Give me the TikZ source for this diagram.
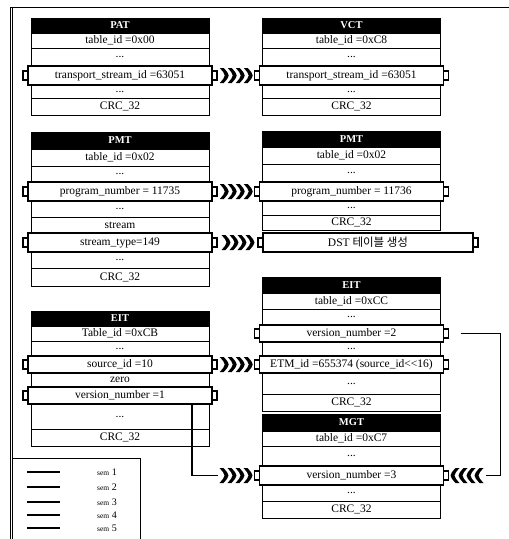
\documentclass[tikz,border=0pt]{standalone}
\usepackage{fontspec}
\setmainfont{Liberation Serif}
\newfontfamily\kofont{Noto Sans CJK KR}
\usetikzlibrary{positioning, calc}

\begin{document}
\begin{tikzpicture}[x=1pt, y=-1pt,
    hdr/.style={draw, fill=black, text=white, font=\bfseries\fontsize{10.5}{12}\selectfont, minimum width=178pt, inner sep=0pt, outer sep=0pt, anchor=north},
    cell/.style={draw, line width=0.5pt, minimum width=178pt, inner sep=0pt, outer sep=0pt, font=\fontsize{11.5}{12}\selectfont},
    hl/.style={cell, line width=1.6pt, minimum width=184pt},
    port/.style={draw, line width=1.4pt, fill=white, minimum width=5pt, minimum height=9pt, inner sep=0pt, outer sep=0pt},
    link/.style={line width=1.4pt},
    legtxt/.style={font=\fontsize{10}{11}\selectfont, inner sep=0pt},
    chevs/.pic={
      \foreach \i in {-16,-8,0,8}
        \fill[shift={(\i,0)}] (0,-7.5) -- (4,-7.5) .. controls (7,-4) and (9,-2) .. (9,0)
          .. controls (9,2) and (7,4) .. (4,7.5) -- (0,7.5) .. controls (3,4) and (5,2) .. (5,0)
          .. controls (5,-2) and (3,-4) .. (0,-7.5) -- cycle;
    }
]
\useasboundingbox (0,0) rectangle (509,539);
% frame
\draw (10,7) -- (509,7);
\draw (10,7) -- (10,539);
\draw (12.5,7) -- (12.5,539);

% PAT
\node[hdr, minimum height=15pt] (pat) at (120,18) {PAT};
\node[cell, below=0pt of pat, minimum height=15pt] (pat1) {table\_id =0x00};
\node[cell, below=0pt of pat1, minimum height=18pt] (pat2) {...};
\node[hl, below=0pt of pat2, minimum height=19pt] (pat3) {transport\_stream\_id =63051};
\node[cell, below=0pt of pat3, minimum height=13pt] (pat4) {...};
\node[cell, below=0pt of pat4, minimum height=17pt] (pat5) {CRC\_32};
\node[port, left=0pt of pat3] (pat3w) {};
\node[port, right=0pt of pat3] (pat3e) {};

% VCT
\node[hdr, minimum height=15pt] (vct) at (351.5,18) {VCT};
\node[cell, below=0pt of vct, minimum height=15pt] (vct1) {table\_id =0xC8};
\node[cell, below=0pt of vct1, minimum height=18pt] (vct2) {...};
\node[hl, below=0pt of vct2, minimum height=19pt] (vct3) {transport\_stream\_id =63051};
\node[cell, below=0pt of vct3, minimum height=13pt] (vct4) {...};
\node[cell, below=0pt of vct4, minimum height=17pt] (vct5) {CRC\_32};
\node[port, left=0pt of vct3] (vct3w) {};
\node[port, right=0pt of vct3] (vct3e) {};

% PMT (left)
\node[hdr, minimum height=17pt] (pmtl) at (120,132) {PMT};
\node[cell, below=0pt of pmtl, minimum height=17pt] (pmtl1) {table\_id =0x02};
\node[cell, below=0pt of pmtl1, minimum height=16pt] (pmtl2) {...};
\node[hl, below=0pt of pmtl2, minimum height=19pt] (pmtl3) {program\_number = 11735};
\node[cell, below=0pt of pmtl3, minimum height=16pt] (pmtl4) {...};
\node[cell, below=0pt of pmtl4, minimum height=16pt] (pmtl5) {stream};
\node[hl, below=0pt of pmtl5, minimum height=19pt] (pmtl6) {stream\_type=149};
\node[cell, below=0pt of pmtl6, minimum height=16pt] (pmtl7) {...};
\node[cell, below=0pt of pmtl7, minimum height=18pt] (pmtl8) {CRC\_32};
\node[port, left=0pt of pmtl3] (pmtl3w) {};
\node[port, right=0pt of pmtl3] (pmtl3e) {};
\node[port, left=0pt of pmtl6] (pmtl6w) {};
\node[port, right=0pt of pmtl6] (pmtl6e) {};

% PMT (right)
\node[hdr, minimum height=16pt] (pmtr) at (351.5,131) {PMT};
\node[cell, below=0pt of pmtr, minimum height=17pt] (pmtr1) {table\_id =0x02};
\node[cell, below=0pt of pmtr1, minimum height=18pt] (pmtr2) {...};
\node[hl, below=0pt of pmtr2, minimum height=19pt] (pmtr3) {program\_number = 11736};
\node[cell, below=0pt of pmtr3, minimum height=14pt] (pmtr4) {...};
\node[cell, below=0pt of pmtr4, minimum height=15pt] (pmtr5) {CRC\_32};
\node[port, left=0pt of pmtr3] (pmtr3w) {};
\node[port, right=0pt of pmtr3] (pmtr3e) {};

% DST
\node[hl, minimum width=210pt, minimum height=19pt] (dst) at (368,242.5) {DST {\kofont 테이블 생성}};
\node[port, left=0pt of dst] (dstw) {};
\node[port, right=0pt of dst] (dste) {};

% EIT (left)
\node[hdr, minimum height=15pt] (eitl) at (120,311) {EIT};
\node[cell, below=0pt of eitl, minimum height=15pt] (eitl1) {Table\_id =0xCB};
\node[cell, below=0pt of eitl1, minimum height=15pt] (eitl2) {...};
\node[hl, below=0pt of eitl2, minimum height=17pt] (eitl3) {source\_id =10};
\node[cell, below=0pt of eitl3, minimum height=14pt] (eitl4) {zero};
\node[hl, below=0pt of eitl4, minimum height=17pt] (eitl5) {version\_number =1};
\node[cell, below=0pt of eitl5, minimum height=25pt] (eitl6) {...};
\node[cell, below=0pt of eitl6, minimum height=17pt] (eitl7) {CRC\_32};
\node[port, left=0pt of eitl3] (eitl3w) {};
\node[port, right=0pt of eitl3] (eitl3e) {};
\node[port, left=0pt of eitl5] (eitl5w) {};
\node[port, right=0pt of eitl5] (eitl5e) {};

% EIT (right)
\node[hdr, minimum height=16pt] (eitr) at (351.5,277) {EIT};
\node[cell, below=0pt of eitr, minimum height=16pt] (eitr1) {table\_id =0xCC};
\node[cell, below=0pt of eitr1, minimum height=16pt] (eitr2) {...};
\node[hl, below=0pt of eitr2, minimum height=17pt] (eitr3) {version\_number =2};
\node[cell, below=0pt of eitr3, minimum height=14pt] (eitr4) {...};
\node[hl, below=0pt of eitr4, minimum height=17pt] (eitr5) {ETM\_id =655374 (source\_id<\kern0pt<16)};
\node[cell, below=0pt of eitr5, minimum height=21pt] (eitr6) {...};
\node[cell, below=0pt of eitr6, minimum height=17pt] (eitr7) {CRC\_32};
\node[port, left=0pt of eitr3] (eitr3w) {};
\node[port, right=0pt of eitr3] (eitr3e) {};
\node[port, left=0pt of eitr5] (eitr5w) {};
\node[port, right=0pt of eitr5] (eitr5e) {};

% MGT
\node[hdr, minimum height=17pt] (mgt) at (351.5,414) {MGT};
\node[cell, below=0pt of mgt, minimum height=15pt] (mgt1) {table\_id =0xC7};
\node[cell, below=0pt of mgt1, minimum height=20pt] (mgt2) {...};
\node[hl, below=0pt of mgt2, minimum height=19pt] (mgt3) {version\_number =3};
\node[cell, below=0pt of mgt3, minimum height=16pt] (mgt4) {...};
\node[cell, below=0pt of mgt4, minimum height=17pt] (mgt5) {CRC\_32};
\node[port, left=0pt of mgt3] (mgt3w) {};
\node[port, right=0pt of mgt3] (mgt3e) {};

% chevron links
\pic at ($(pat3e.east)!0.5!(vct3w.west)$) {chevs};
\pic at ($(pmtl3e.east)!0.5!(pmtr3w.west)$) {chevs};
\pic at ($(pmtl6e.east)!0.5!(dstw.west)$) {chevs};
\pic at ($(eitl3e.east)!0.5!(eitr5w.west)$) {chevs};
\pic at ($(mgt3w.west)+(-19,0)$) {chevs};
\pic[rotate=180] at ($(mgt3e.east)+(19,0)$) {chevs};

% version lines
\coordinate (mgin) at ($(mgt3w.west)+(-37,0)$);
\coordinate (mgout) at ($(mgt3e.east)+(37,0)$);
\draw[link] ([xshift=72pt]eitl5.south) |- (mgin);
\draw[link] ([xshift=12pt]eitr3e.east) -- ([xshift=52pt]eitr3e.east) |- (mgout);

% legend
\draw (12.5,458) -- (140,458) -- (140,539);
\draw[link] (27,472) -- (60,472);
\draw[link] (27,487) -- (60,487);
\draw[link] (27,502) -- (60,502);
\draw[link] (27,515) -- (60,515);
\draw[link] (27,528) -- (60,528);
\node[legtxt] (leg1) at (107,472) {{\fontsize{7.5}{9}\selectfont sem} 1};
\node[legtxt] (leg2) at (107,487) {{\fontsize{7.5}{9}\selectfont sem} 2};
\node[legtxt] (leg3) at (107,502) {{\fontsize{7.5}{9}\selectfont sem} 3};
\node[legtxt] (leg4) at (107,515) {{\fontsize{7.5}{9}\selectfont sem} 4};
\node[legtxt] (leg5) at (107,528) {{\fontsize{7.5}{9}\selectfont sem} 5};
\end{tikzpicture}
\end{document}
